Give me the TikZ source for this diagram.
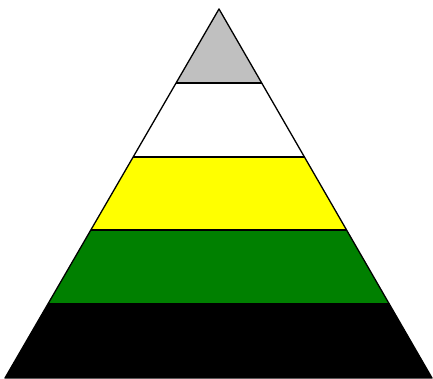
\documentclass[tikz,border=0pt]{standalone}
\usepackage{tikz}
\definecolor{tierGray}{HTML}{C0C0C0}
\definecolor{tierYellow}{HTML}{FFFF00}
\definecolor{tierGreen}{HTML}{008000}
\definecolor{tierBlack}{HTML}{000000}
\tikzset{
  tierEdge/.style={black, line width=1.3pt, line join=round},
  tierBand/.style={draw=none}
}
\begin{document}
\begin{tikzpicture}[x=1pt,y=1pt]
  \useasboundingbox (0,0) rectangle (433,379);
  \coordinate (apex) at (219,370);
  \coordinate (baseL) at (5,1);
  \coordinate (baseR) at (432,1);
  \begin{scope}
    \clip (apex) -- (baseL) -- (baseR) -- cycle;
    \fill[tierBand, tierGray] (0,296) rectangle (433,379);
    \fill[tierBand, white] (0,222) rectangle (433,296);
    \fill[tierBand, tierYellow] (0,149) rectangle (433,222);
    \fill[tierBand, tierGreen] (0,75) rectangle (433,149);
    \fill[tierBand, tierBlack] (0,0) rectangle (433,75);
    \foreach \lvl in {296,222,149,75}
      \draw[tierEdge] (0,\lvl) -- (433,\lvl);
  \end{scope}
  \draw[tierEdge] (apex) -- (baseL) -- (baseR) -- cycle;
\end{tikzpicture}
\end{document}
